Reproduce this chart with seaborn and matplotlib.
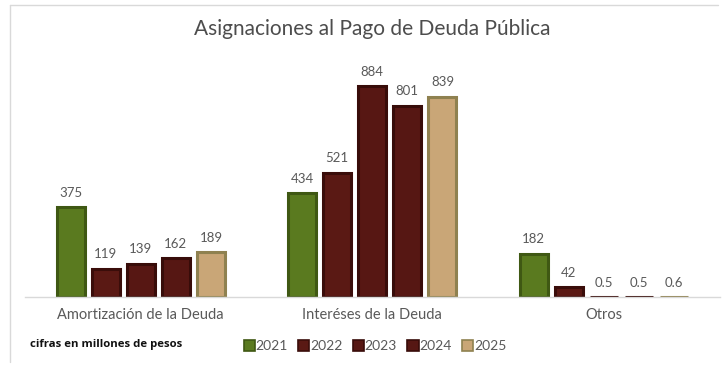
import matplotlib
matplotlib.use("Agg")
import matplotlib.pyplot as plt
from matplotlib.lines import Line2D
from matplotlib.patches import Patch
import pandas as pd
import seaborn as sns

categories = ["Amortización de la Deuda", "Interéses de la Deuda", "Otros"]
years = ["2021", "2022", "2023", "2024", "2025"]
values_2021 = [375, 434, 182]
values_2022 = [119, 521, 42]
values_2023 = [139, 884, 0.5]
values_2024 = [162, 801, 0.5]
values_2025 = [189, 839, 0.6]

series = [values_2021, values_2022, values_2023, values_2024, values_2025]
rows = []
for year, vals in zip(years, series):
    for cat, v in zip(categories, vals):
        rows.append({"Categoría": cat, "Año": year, "Monto": v})
df = pd.DataFrame(rows)

fills = ["#5a7a1f", "#5a1914", "#571713", "#561713", "#c9a677"]
edges = ["#3f5813", "#3a0d0a", "#380c09", "#370c09", "#8f8150"]
palette = dict(zip(years, fills))

sns.set_theme(style="white")
plt.rcParams["font.family"] = ["Lato", "DejaVu Sans"]

fig = plt.figure(figsize=(7.24, 3.66), dpi=100)
W, H = 724, 366
ax = fig.add_axes([25 / W, 69 / H, 694.5 / W, 250 / H])

sns.barplot(data=df, x="Categoría", y="Monto", hue="Año", order=categories,
            hue_order=years, palette=palette, width=0.758, gap=0.2,
            saturation=1, legend=False, ax=ax)

ax.set_xlim(-0.5, 2.5)
ax.set_ylim(0, 1047)

for container, year, ec, vals in zip(ax.containers, years, edges, series):
    for p in container.patches:
        p.set_edgecolor(ec)
        p.set_linewidth(2.2)
        p.set_joinstyle("miter")
    labels = [("%g" % v) for v in vals]
    ax.bar_label(container, labels=labels, padding=6, fontsize=9.5,
                 color="#595959")

for s in ["top", "right", "left"]:
    ax.spines[s].set_visible(False)
ax.spines["bottom"].set_color("#d9d9d9")
ax.spines["bottom"].set_linewidth(1.0)
ax.set_yticks([])
ax.set_xlabel("")
ax.set_ylabel("")
ax.tick_params(axis="x", length=0, pad=8, labelsize=10.5, labelcolor="#595959")

fig.text(372 / W, 1 - 29 / H, "Asignaciones al Pago de Deuda Pública",
         ha="center", va="center", fontsize=15, color="#4d4d4d")

fig.text(30 / W, 1 - 344 / H, "cifras en millones de pesos", ha="left",
         va="center", fontsize=8.2, color="#111111", fontweight="bold",
         family=["Open Sans", "DejaVu Sans"])

handles = [Patch(facecolor=f, edgecolor=e, linewidth=1.2) for f, e in zip(fills, edges)]
fig.legend(handles, years, loc="center", bbox_to_anchor=(375 / W, 1 - 346 / H),
           ncol=5, frameon=False, fontsize=10, handlelength=0.8,
           handleheight=0.8, handletextpad=0.05, columnspacing=0.75,
           labelcolor="#595959")

# frame lines around the chart area
fig.add_artist(Line2D([10 / W, 10 / W], [1 - 5 / H, 1 - 362 / H],
                      color="#d9d9d9", lw=1.0, transform=fig.transFigure))
fig.add_artist(Line2D([10 / W, 718 / W], [1 - 5 / H, 1 - 5 / H],
                      color="#d9d9d9", lw=1.0, transform=fig.transFigure))

fig.savefig("out.png", dpi=100, facecolor="white")
